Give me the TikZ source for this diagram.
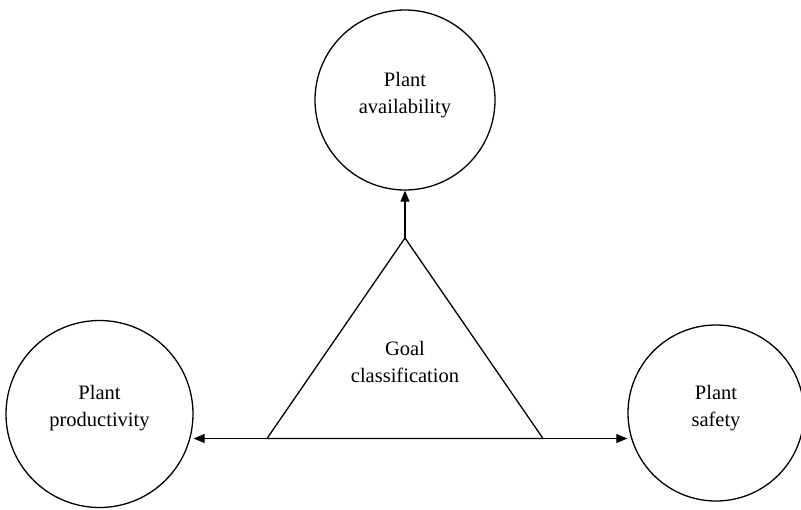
\documentclass[tikz,border=0pt]{standalone}
\usepackage{fontspec}
\setmainfont{Liberation Serif}
\usetikzlibrary{arrows.meta}
\begin{document}
\begin{tikzpicture}[x=1pt,y=-1pt,
  goal/.style={draw=black, circle, line width=1.3pt, inner sep=0pt},
  lbl/.style={align=center, font=\fontsize{20.5}{27}\selectfont},
  conn/.style={line width=1.1pt, -{Triangle[length=11pt,width=9pt]}},
  tri/.style={draw=black, line width=1.3pt, line join=miter}]
\useasboundingbox (0,0) rectangle (801,509);
\node[goal, minimum size=180pt] (avail) at (405,100) {};
\node[goal, minimum size=187pt] (prod) at (99.5,414) {};
\node[goal, minimum size=176pt] (safe) at (716,413) {};
\node[lbl] (tavail) at (405,95) {Plant\\availability};
\node[lbl] (tprod) at (99.5,408) {Plant\\productivity};
\node[lbl] (tsafe) at (716,408) {Plant\\safety};
\coordinate (apex) at (405,238);
\coordinate (bl) at (267,438.5);
\coordinate (br) at (543,438.5);
\draw[tri] (apex) -- (bl) -- (br) -- cycle;
\node[lbl] (tgoal) at (405,362) {Goal\\classification};
\draw[conn] (apex) -- (apex |- avail.south);
\draw[conn] (bl) -- (bl -| prod.east);
\draw[conn] (br) -- (br -| safe.west);
\end{tikzpicture}
\end{document}
